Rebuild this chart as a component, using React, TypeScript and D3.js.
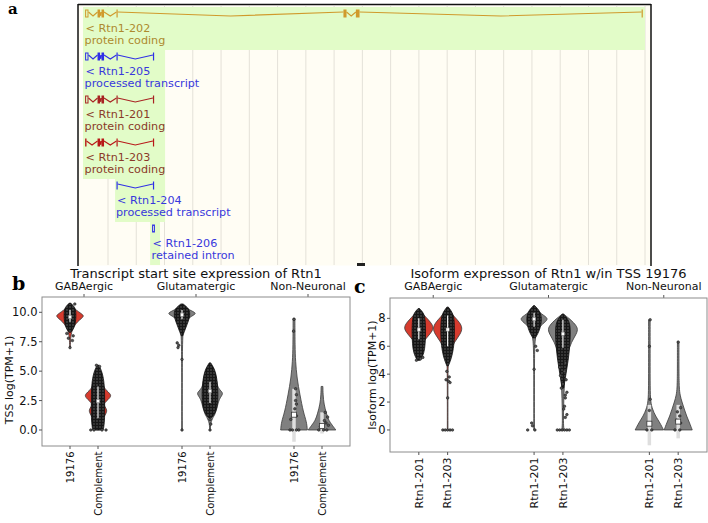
import React from "react";
import * as d3 from "d3";

const W = 708;
const H = 523;

// ---------------- Panel a: transcript tracks ----------------
const gridKb = [10, 20, 30, 40, 50, 60, 70, 80, 90, 100, 110, 120, 130, 140, 150, 160, 170, 180, 190, 200];
const txNames = ["Rtn1-202", "Rtn1-205", "Rtn1-201", "Rtn1-203", "Rtn1-204", "Rtn1-206"];
const txBiotypes = ["protein coding", "processed transcript", "protein coding", "protein coding", "processed transcript", "retained intron"];
// exons: [startKb, endKb, kind]  kind: "f" filled, "o" open (UTR / non-coding)
const txExons: [number, number, string][][] = [
  [[1.9, 3.1, "o"], [6.3, 7.2, "f"], [7.7, 8.6, "f"], [13.0, 13.4, "f"], [93.3, 94.4, "f"], [97.7, 99.0, "f"], [198.8, 199.2, "f"]],
  [[1.9, 3.1, "o"], [6.3, 7.2, "f"], [7.7, 8.6, "f"], [13.0, 13.4, "f"], [25.9, 26.3, "f"]],
  [[1.9, 3.1, "o"], [6.3, 7.2, "f"], [7.7, 8.6, "f"], [13.0, 13.4, "f"], [25.9, 26.3, "f"]],
  [[1.9, 2.4, "f"], [6.3, 7.2, "f"], [7.7, 8.6, "f"], [13.0, 13.4, "f"], [25.9, 26.3, "f"]],
  [[13.0, 13.4, "f"], [25.9, 26.3, "f"]],
  [[25.6, 26.6, "o"]],
];
const txHighlight: [number, number][] = [
  [1.15, 200.0], [1.15, 30.2], [1.15, 30.2], [1.15, 30.2], [12.5, 30.2], [24.9, 28.4],
];
const txLineColors = ["#d09a2c", "#2f2fe6", "#a82222", "#b81818", "#2f2fe6", "#2f2fe6"];
const txTextColors = ["#ad8a2e", "#3838dc", "#8a3a28", "#8a3a28", "#3838dc", "#3838dc"];

// ---------------- Panel b / c shared ----------------
const groupNames = ["GABAergic", "Glutamatergic", "Non-Neuronal"];
const groupPos = [0.5, 4.5, 8.5];
const slotPos = [0, 1, 4, 5, 8, 9];
const slotFill = ["red", "red", "gray", "gray", "gray", "gray"];
const slotBox = ["thin", "thin", "thin", "thin", "wide", "wide"];

// ---------------- Panel b data ----------------
const bLabels = ["19176", "Complement", "19176", "Complement", "19176", "Complement"];
const bYTicks = [0, 2.5, 5, 7.5, 10];
const bViolins: [number, number][][] = [
  [[7.0, 0.02], [7.8, 0.04], [8.3, 0.1], [8.8, 0.25], [9.2, 0.5], [9.5, 0.8], [9.7, 0.95], [9.9, 0.75], [10.2, 0.4], [10.5, 0.15], [10.8, 0.02]],
  [[0, 0.12], [0.4, 0.15], [0.9, 0.3], [1.4, 0.55], [1.7, 0.62], [2.0, 0.45], [2.25, 0.38], [2.6, 0.7], [2.95, 0.95], [3.3, 0.6], [3.8, 0.3], [4.5, 0.18], [5.0, 0.1], [5.5, 0.03]],
  [[0, 0.02], [5, 0.02], [7, 0.03], [8.3, 0.06], [9.0, 0.15], [9.5, 0.4], [9.8, 0.85], [9.95, 0.95], [10.2, 0.5], [10.5, 0.15], [10.7, 0.02]],
  [[0, 0.02], [0.8, 0.05], [1.3, 0.35], [2.0, 0.5], [2.6, 0.6], [3.0, 0.85], [3.2, 0.85], [3.6, 0.5], [4.2, 0.45], [4.8, 0.35], [5.3, 0.2], [5.7, 0.02]],
  [[0, 0.9], [0.7, 0.85], [1.5, 0.63], [3.0, 0.4], [4.4, 0.2], [5.9, 0.1], [7.0, 0.07], [9.5, 0.06]],
  [[0, 0.93], [0.4, 0.7], [0.8, 0.45], [1.4, 0.3], [2.2, 0.13], [3.0, 0.07], [3.7, 0.06]],
];
const bClouds: [number, number][][] = [
  [[8.3, 0.05], [8.6, 0.25], [9.0, 0.35], [9.5, 0.4], [10.0, 0.4], [10.4, 0.35], [10.75, 0.08]],
  [[0, 0.35], [0.3, 0.4], [1, 0.45], [2, 0.45], [3, 0.45], [4, 0.42], [4.8, 0.3], [5.3, 0.15], [5.5, 0.05]],
  [[8.0, 0.05], [8.5, 0.2], [9.0, 0.35], [9.5, 0.5], [10.0, 0.55], [10.4, 0.4], [10.7, 0.08]],
  [[1.0, 0.05], [1.3, 0.3], [2, 0.5], [3, 0.55], [4, 0.5], [4.8, 0.4], [5.3, 0.25], [5.7, 0.05]],
  [],
  [],
];
const bPoints: [number, number][][] = [
  [[7.0, 0], [7.6, 0.3], [7.8, -0.2], [8.0, 0.4], [8.2, -0.4], [10.7, 0.6]],
  [[0, -0.9], [0, -0.5], [0, 0.5], [0, 1.0], [5.4, 0.2], [5.5, -0.2]],
  [[7.4, -0.6], [7.2, -0.4], [7.0, -0.5], [6.0, 0], [0, 0]],
  [[0.9, 0], [0.5, 0.1], [0, 0]],
  [[9.4, 0], [8.4, -0.05], [3.5, 0.2], [3.0, 0.3], [2.5, 0.2], [2.2, 0.3], [1.8, 0.1], [1.2, 0.3], [0.9, -0.4], [0, -0.5], [0, -0.2], [0, 0.3], [0, 0.6]],
  [[1.5, 0.4], [1.1, 0.7], [0.8, 0.3], [0.6, 0.5], [0.3, -0.2], [0, -0.4], [0, 0.2], [0, 0.6], [0.4, 0.8]],
];
const bBoxes: [number, number, number][] = [
  [9.2, 9.6, 10.2], [1.0, 2.45, 3.7], [9.4, 9.8, 10.2], [2.3, 3.3, 4.1], [-1.0, 1.3, 3.5], [-0.3, 0.35, 1.5],
];

// ---------------- Panel c data ----------------
const cLabels = ["Rtn1-201", "Rtn1-203", "Rtn1-201", "Rtn1-203", "Rtn1-201", "Rtn1-203"];
const cYTicks = [0, 2, 4, 6, 8];
const cViolins: [number, number][][] = [
  [[5.0, 0.02], [5.6, 0.04], [6.0, 0.08], [6.4, 0.35], [6.9, 0.75], [7.3, 1.0], [7.7, 0.8], [8.1, 0.45], [8.4, 0.2], [8.65, 0.04]],
  [[0, 0.02], [4, 0.02], [5.0, 0.04], [5.7, 0.15], [6.3, 0.45], [6.9, 0.85], [7.3, 0.97], [7.7, 0.8], [8.1, 0.45], [8.5, 0.15], [8.8, 0.03]],
  [[0, 0.02], [5, 0.02], [6.5, 0.05], [7.2, 0.2], [7.6, 0.55], [7.95, 0.97], [8.2, 0.65], [8.5, 0.25], [8.9, 0.03]],
  [[0, 0.08], [0.3, 0.03], [1.5, 0.04], [3, 0.08], [4.5, 0.15], [5.5, 0.3], [6.3, 0.55], [6.9, 0.9], [7.3, 1.0], [7.7, 0.7], [8.0, 0.4], [8.3, 0.05]],
  [[0, 0.93], [0.5, 0.7], [1.0, 0.4], [1.5, 0.2], [2.0, 0.08], [3.0, 0.05], [5.0, 0.05], [7.9, 0.05]],
  [[0, 0.92], [0.5, 0.75], [1.0, 0.55], [1.5, 0.4], [2.0, 0.25], [2.5, 0.12], [3.0, 0.07], [4.0, 0.05], [6.3, 0.05]],
];
const cClouds: [number, number][][] = [
  [[5.0, 0.1], [5.5, 0.35], [6.2, 0.42], [7, 0.45], [8, 0.42], [8.4, 0.3], [8.7, 0.05]],
  [[4.6, 0.05], [5.0, 0.2], [5.6, 0.35], [6.5, 0.45], [7.5, 0.45], [8.3, 0.4], [8.8, 0.05]],
  [[6.6, 0.08], [7.0, 0.3], [7.5, 0.45], [8.0, 0.5], [8.5, 0.4], [8.9, 0.05]],
  [[3.0, 0.05], [4.0, 0.2], [5.0, 0.35], [6.0, 0.45], [7.0, 0.5], [7.8, 0.45], [8.3, 0.05]],
  [],
  [],
];
const cPoints: [number, number][][] = [
  [[5.0, -0.3], [5.1, 0.2], [5.2, 0.5]],
  [[4.2, -0.1], [3.8, 0.2], [3.6, -0.2], [3.5, 0.1], [3.4, 0.3], [2.3, 0], [0, -0.6], [0, -0.3], [0, 0], [0, 0.3], [0, 0.6]],
  [[6.0, 0.2], [5.7, 0.4], [4.35, 0], [0.5, -0.3], [0.3, -0.2], [0, -0.8], [0, 0.1]],
  [[4.8, 0.3], [4.5, -0.4], [4.2, 0.2], [3.9, -0.3], [3.6, 0.4], [3.3, 0], [3.0, -0.2], [2.7, 0.5], [2.5, 0.3], [2.3, 0.3], [1.7, 0.2], [1.5, 0.1], [1.1, 0.5], [0.9, 0.3], [0, -0.7], [0, -0.4], [0, -0.1], [0, 0.2], [0, 0.5], [0, 0.8]],
  [[7.9, 0.1], [6.0, 0], [2.2, 0.1], [1.4, 0], [0, -0.3], [0, 0.3]],
  [[6.3, 0], [1.6, 0.3], [1.3, -0.1], [1.0, 0.2], [0.7, -0.2], [0.5, 0.3], [0, -0.4], [0, 0.2]],
];
const cBoxes: [number, number, number][] = [
  [6.5, 7.2, 8.0], [6.0, 7.2, 8.2], [7.4, 7.95, 8.4], [5.9, 6.9, 7.9], [-1.1, 0.45, 1.8], [-0.6, 0.6, 1.8],
];

const FONT = "DejaVu Sans, Verdana, sans-serif";
const RED = "#d63b2e";
const GRAY = "#808080";

function TrackPanel() {
  const x = d3.scaleLinear().domain([10, 200]).range([108, 645]);
  const yRow = d3.scaleLinear().domain([0, 6]).range([7, 265]);
  return (
    <g>
      <rect x={78} y={4.5} width={573} height={261} fill="#fffdf4" />
      {gridKb.map((k) => (
        <line key={k} x1={x(k)} x2={x(k)} y1={6} y2={265} stroke="#e4e1d8" strokeWidth={1} />
      ))}
      {txNames.map((n, i) => {
        const y0 = yRow(i);
        const [h0, h1] = txHighlight[i];
        return <rect key={"h" + n} x={x(h0)} y={y0} width={x(h1) - x(h0)} height={yRow(i + 1) - y0} fill="#e2fcc8" />;
      })}
      {txNames.map((n, i) => {
        const y0 = yRow(i);
        const yc = y0 + 6.5;
        const ex = txExons[i];
        const col = txLineColors[i];
        const introns = [] as any[];
        for (let k = 0; k < ex.length - 1; k++) {
          const x1 = x(ex[k][1]);
          const x2 = x(ex[k + 1][0]);
          const p = d3.path();
          p.moveTo(x1, yc - 1.5);
          p.lineTo((x1 + x2) / 2, yc + 2.5);
          p.lineTo(x2, yc - 1.5);
          introns.push(<path key={"in" + k} d={p.toString()} fill="none" stroke={col} strokeWidth={1.1} />);
        }
        return (
          <g key={"t" + n}>
            {introns}
            {ex.map((e, k) => {
              const xa = x(e[0]);
              const w = Math.max(1.2, x(e[1]) - xa);
              return e[2] === "f" ? (
                <rect key={k} x={xa} y={yc - 4} width={w} height={8} fill={col} />
              ) : (
                <rect key={k} x={xa + 0.5} y={yc - 3.5} width={w - 1} height={7} fill="none" stroke={col} strokeWidth={1} />
              );
            })}
            <text x={x(ex[0][0]) + 0.5} y={y0 + 25} fontFamily={FONT} fontSize={11.2} fill={txTextColors[i]}>
              {"< " + n}
            </text>
            <text x={x(ex[0][0]) - 0.5} y={y0 + 36.5} fontFamily={FONT} fontSize={11.2} fill={txTextColors[i]}>
              {txBiotypes[i]}
            </text>
          </g>
        );
      })}
      <line x1={78} x2={78} y1={4} y2={266} stroke="#111" strokeWidth={1.5} />
      <line x1={78} x2={651} y1={4.5} y2={4.5} stroke="#111" strokeWidth={1.5} />
      <line x1={651} x2={651} y1={4} y2={266} stroke="#111" strokeWidth={1.5} />
      <rect x={357} y={263} width={8} height={3} fill="#222" />
    </g>
  );
}

type PanelProps = {
  x0: number; x1: number; y0: number; y1: number;
  dom: [number, number];
  title: string; ylabel: string; ylabelX: number; ylabelY: number;
  labels: string[]; labelSize: number; ticks: number[]; fmt: (v: number) => string;
  violins: [number, number][][]; clouds: [number, number][][];
  points: [number, number][][]; boxes: [number, number, number][];
  letter: string; letterX: number; letterY: number;
};

function ViolinPanel(p: PanelProps) {
  const x = d3.scaleLinear().domain([-1, 10]).range([p.x0, p.x1]);
  const y = d3.scaleLinear().domain(p.dom).range([p.y1, p.y0]);
  const step = x(1) - x(0);
  const w = d3.scaleLinear().domain([0, 1]).range([0, 0.53 * step]);
  const cx0 = (p.x0 + p.x1) / 2;
  return (
    <g>
      <text x={p.letterX} y={p.letterY} fontFamily="DejaVu Serif, Liberation Serif, serif" fontWeight="bold" fontSize={19}>{p.letter}</text>
      <text x={cx0} y={278} textAnchor="middle" fontFamily={FONT} fontSize={13} fill="#111">{p.title}</text>
      {groupNames.map((g, i) => (
        <g key={g}>
          <text x={x(groupPos[i])} y={290} textAnchor="middle" fontFamily={FONT} fontSize={11} fill="#111">{g}</text>
          <line x1={x(groupPos[i])} x2={x(groupPos[i])} y1={p.y0} y2={p.y0 - 3} stroke="#555" />
        </g>
      ))}
      <rect x={p.x0} y={p.y0} width={p.x1 - p.x0} height={p.y1 - p.y0} fill="#fff" stroke="#8c8c8c" strokeWidth={1} />
      {p.ticks.map((t) => (
        <g key={t}>
          <line x1={p.x0 - 3} x2={p.x0} y1={y(t)} y2={y(t)} stroke="#555" />
          <text x={p.x0 - 4.5} y={y(t)} dy="0.35em" textAnchor="end" fontFamily={FONT} fontSize={11.5} fill="#111">{p.fmt(t)}</text>
        </g>
      ))}
      <text transform={`translate(${p.ylabelX},${p.ylabelY}) rotate(-90)`} textAnchor="middle" fontFamily={FONT} fontSize={11} fill="#111">{p.ylabel}</text>
      {p.labels.map((l, i) => {
        const cx = x(slotPos[i]);
        return (
          <g key={"l" + i}>
            <line x1={cx} x2={cx} y1={p.y1} y2={p.y1 + 3} stroke="#555" />
            <text transform={`translate(${cx},${p.y1 + 5.5}) rotate(-90)`} dy="0.35em" textAnchor="end" fontFamily={FONT} fontSize={p.labelSize} fill="#111">{l}</text>
          </g>
        );
      })}
      {p.violins.map((v, i) => {
        const cx = x(slotPos[i]);
        const area = d3.area<[number, number]>()
          .y((d) => y(d[0]))
          .x0((d) => cx - w(d[1]))
          .x1((d) => cx + w(d[1]))
          .curve(d3.curveBasis);
        const cloud = p.clouds[i];
        const box = p.boxes[i];
        const wide = slotBox[i] === "wide";
        return (
          <g key={"v" + i}>
            <path d={area(v) || ""} fill={slotFill[i] === "red" ? RED : GRAY} stroke="#3a3a3a" strokeWidth={0.8} />
            {wide && (
              <line x1={cx} x2={cx} y1={y(box[0])} y2={y(box[2])} stroke="#dedede" strokeWidth={3.5} />
            )}
            {cloud.length > 0 && <path d={area(cloud) || ""} fill="url(#speck)" stroke="#111" strokeWidth={0.8} />}
            {p.points[i].map((pt, k) => (
              <circle key={k} cx={cx + pt[1] * 8} cy={y(pt[0])} r={1.3} fill="#555" stroke="#111" strokeWidth={0.5} />
            ))}
            {wide ? (
              <rect x={cx - 2.5} y={y(box[1]) - 2.5} width={5} height={5} fill="#fff" stroke="#333" strokeWidth={0.8} />
            ) : (
              <g>
                <line x1={cx} x2={cx} y1={y(box[0])} y2={y(box[2])} stroke="#f4f4f4" strokeWidth={1.2} />
                <rect x={cx - 1.6} y={y(box[1]) - 1.6} width={3.2} height={3.2} fill="#fff" stroke="#777" strokeWidth={0.5} />
              </g>
            )}
          </g>
        );
      })}
    </g>
  );
}

export default function App() {
  return (
    <svg width={W} height={H} style={{ position: "absolute", left: 0, top: 0, background: "#fff" }}>
      <defs>
        <pattern id="speck" width={3} height={3} patternUnits="userSpaceOnUse">
          <rect width={3} height={3} fill="#161616" />
          <circle cx={1} cy={1} r={0.65} fill="#6e6e6e" />
        </pattern>
      </defs>
      <rect width={W} height={H} fill="#fff" />
      <text x={8} y={14} fontFamily="DejaVu Serif, Liberation Serif, serif" fontWeight="bold" fontSize={15}>a</text>
      <TrackPanel />
      <ViolinPanel
        x0={42} x1={350} y0={297} y1={446} dom={[-1.36, 11.3]}
        title="Transcript start site expression of Rtn1" ylabel="TSS log(TPM+1)" ylabelX={13} ylabelY={380}
        labels={bLabels} labelSize={10} ticks={bYTicks} fmt={d3.format(".1f")}
        violins={bViolins} clouds={bClouds} points={bPoints} boxes={bBoxes}
        letter="b" letterX={12} letterY={290}
      />
      <ViolinPanel
        x0={390} x1={707} y0={298} y1={452} dom={[-1.58, 9.46]}
        title="Isoform expresson of Rtn1 w/in TSS 19176" ylabel="Isoform log(TPM+1)" ylabelX={376} ylabelY={375}
        labels={cLabels} labelSize={11} ticks={cYTicks} fmt={d3.format("d")}
        violins={cViolins} clouds={cClouds} points={cPoints} boxes={cBoxes}
        letter="c" letterX={354} letterY={293}
      />
    </svg>
  );
}
